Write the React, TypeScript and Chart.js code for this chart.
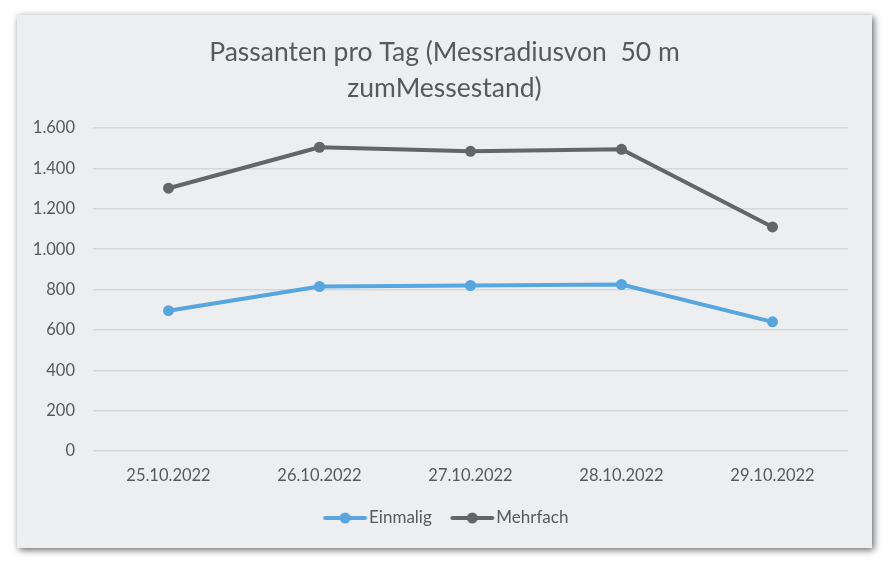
import React, { useEffect, useRef } from "react";
import { Chart, registerables } from "chart.js";

Chart.register(...registerables);

const categories = ["25.10.2022", "26.10.2022", "27.10.2022", "28.10.2022", "29.10.2022"];
const einmalig = [695, 815, 820, 825, 640];
const mehrfach = [1302, 1505, 1485, 1495, 1110];
const titleLines = ["Passanten pro Tag (Messradiusvon  50 m", "zumMessestand)"];
const seriesNames = ["Einmalig", "Mehrfach"];

const BLUE = "#57A6E0";
const GRAY = "#656565";
const TEXT = "#595959";
const FONT = "Lato, 'Open Sans', sans-serif";

function makeIcon(color: string): HTMLCanvasElement {
  const c = document.createElement("canvas");
  c.width = 60;
  c.height = 14;
  const ctx = c.getContext("2d")!;
  ctx.strokeStyle = color;
  ctx.lineWidth = 4;
  ctx.lineCap = "round";
  ctx.beginPath();
  ctx.moveTo(14.5, 7);
  ctx.lineTo(54.5, 7);
  ctx.stroke();
  ctx.fillStyle = color;
  ctx.beginPath();
  ctx.arc(34.5, 7, 5.5, 0, Math.PI * 2);
  ctx.fill();
  return c;
}

export default function App() {
  const ref = useRef<HTMLCanvasElement | null>(null);
  useEffect(() => {
    if (!ref.current) return;
    const icons = [makeIcon(BLUE), makeIcon(GRAY)];
    const chart = new Chart(ref.current, {
      type: "line",
      data: {
        labels: categories,
        datasets: [
          {
            label: seriesNames[0],
            data: einmalig,
            borderColor: BLUE,
            backgroundColor: BLUE,
            pointBackgroundColor: BLUE,
            borderWidth: 4,
            pointRadius: 5.5,
            pointBorderWidth: 0,
            borderJoinStyle: "round",
            borderCapStyle: "round",
          },
          {
            label: seriesNames[1],
            data: mehrfach,
            borderColor: GRAY,
            backgroundColor: GRAY,
            pointBackgroundColor: GRAY,
            borderWidth: 4,
            pointRadius: 5.5,
            pointBorderWidth: 0,
            borderJoinStyle: "round",
            borderCapStyle: "round",
          },
        ],
      },
      options: {
        animation: false,
        responsive: true,
        maintainAspectRatio: false,
        locale: "de-DE",
        layout: { padding: { left: 0, right: 0, top: 0, bottom: 11.5 } },
        plugins: {
          tooltip: { enabled: false },
          title: {
            display: true,
            text: titleLines,
            color: TEXT,
            font: { family: FONT, size: 26.5, weight: "normal", lineHeight: 1.36 },
            padding: { top: 19, bottom: 22 },
          },
          legend: {
            position: "bottom",
            labels: {
              color: TEXT,
              font: { family: FONT, size: 17 },
              usePointStyle: true,
              pointStyleWidth: 40,
              padding: 16,
              generateLabels: (c: any) => {
                const items = (Chart.defaults.plugins.legend.labels as any).generateLabels(c);
                items.forEach((it: any, i: number) => {
                  it.pointStyle = icons[i];
                });
                return items;
              },
            },
          },
        },
        scales: {
          x: {
            offset: true,
            grid: { display: false, drawTicks: false },
            border: { display: false },
            ticks: { color: TEXT, font: { family: FONT, size: 16.5 }, padding: 15, maxRotation: 0 },
            afterFit: (s: any) => {
              s.height = 42.5;
            },
          },
          y: {
            min: 0,
            max: 1600,
            ticks: { stepSize: 200, color: TEXT, font: { family: FONT, size: 16.5 }, padding: 18 },
            grid: { color: "#D6D7D9", lineWidth: 1.5, drawTicks: false },
            border: { display: false },
            afterFit: (s: any) => {
              s.width = 76;
            },
          },
          spacer: {
            type: "linear",
            position: "right",
            display: true,
            ticks: { display: false },
            grid: { display: false, drawTicks: false },
            border: { display: false },
            afterFit: (s: any) => {
              s.width = 24;
            },
          },
        },
      },
    });
    return () => chart.destroy();
  }, []);

  return (
    <div style={{ position: "fixed", left: 0, top: 0, width: 890, height: 563, background: "#ffffff" }}>
      <div
        style={{
          position: "absolute",
          left: 17,
          top: 15,
          width: 855,
          height: 533,
          background: "#EDEEF0",
          boxShadow: "2px 2px 7px rgba(0,0,0,0.6)",
        }}
      >
        <canvas ref={ref} />
      </div>
    </div>
  );
}
